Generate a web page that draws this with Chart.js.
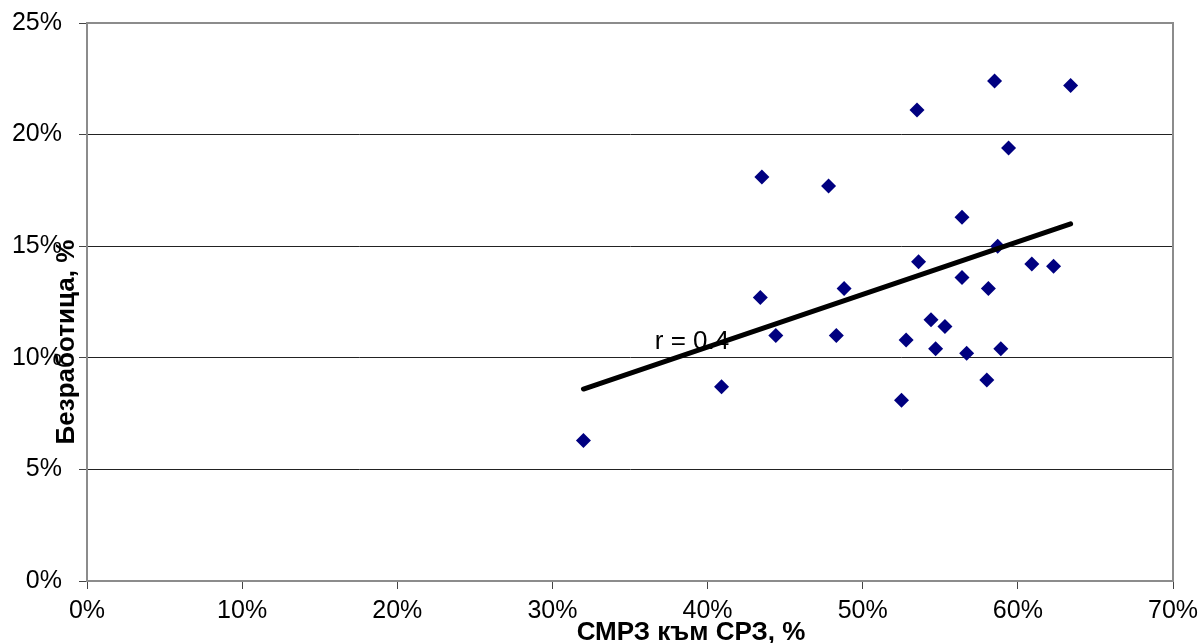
<!DOCTYPE html>
<html>
<head>
<meta charset="utf-8">
<script src="https://cdn.jsdelivr.net/npm/chart.js@4/dist/chart.umd.min.js"></script>
<style>
    body { margin: 0; background: #fff; }
    canvas { display: block; }
</style>
</head>
<body>
<canvas id="chart" width="1203" height="643"></canvas>
<script>
// СМРЗ към СРЗ, % (x) and Безработица, % (y) per region
const share_x = [32.0, 40.9, 43.4, 43.5, 44.4, 47.8, 48.3, 48.8, 52.5, 52.8, 53.5, 53.6, 54.4, 54.7,
    55.3, 56.4, 56.4, 56.7, 58.0, 58.1, 58.5, 58.7, 58.9, 59.4, 60.9, 62.3, 63.4];
const unemployment_y = [6.3, 8.7, 12.7, 18.1, 11.0, 17.7, 11.0, 13.1, 8.1, 10.8, 21.1, 14.3, 11.7, 10.4,
    11.4, 16.3, 13.6, 10.2, 9.0, 13.1, 22.4, 15.0, 10.4, 19.4, 14.2, 14.1, 22.2];

// linear trend line end points
const trend_x = [32.0, 63.4];
const trend_y = [8.6, 16.0];

const x_ticks = [0, 10, 20, 30, 40, 50, 60, 70];
const y_ticks = [0, 5, 10, 15, 20, 25];

const x_title = 'СМРЗ към СРЗ, %';
const y_title = 'Безработица, %';
const r_label = 'r = 0.4';
const r_label_pos = [36.6, 10.7];

const FONT = '"Liberation Sans", Arial, sans-serif';

const scatterPoints = share_x.map((x, i) => ({ x: x, y: unemployment_y[i] }));
const trendPoints = trend_x.map((x, i) => ({ x: x, y: trend_y[i] }));

const frame = {
    id: 'frame',
    beforeDatasetsDraw(chart) {
        const a = chart.chartArea;
        const ctx = chart.ctx;
        ctx.save();
        ctx.strokeStyle = '#8c8c8c';
        ctx.lineWidth = 2;
        ctx.strokeRect(a.left, a.top, a.right - a.left, a.bottom - a.top);
        ctx.restore();
    },
    afterDraw(chart) {
        const ctx = chart.ctx;
        const xs = chart.scales.x;
        const ys = chart.scales.y;
        ctx.save();
        ctx.fillStyle = '#000';

        // r label
        ctx.font = '26px ' + FONT;
        ctx.textAlign = 'left';
        ctx.textBaseline = 'middle';
        ctx.fillText(r_label, xs.getPixelForValue(r_label_pos[0]), ys.getPixelForValue(r_label_pos[1]));

        // x title
        ctx.font = 'bold 26px ' + FONT;
        ctx.textAlign = 'center';
        ctx.textBaseline = 'alphabetic';
        ctx.fillText(x_title, 691, 640);

        // y title
        ctx.translate(74, 342);
        ctx.rotate(-Math.PI / 2);
        ctx.fillText(y_title, 0, 0);
        ctx.restore();
    }
};

const chart = new Chart(document.getElementById('chart'), {
    type: 'scatter',
    data: {
        datasets: [
            {
                type: 'line',
                data: trendPoints,
                showLine: true,
                borderColor: '#000',
                borderWidth: 5,
                borderCapStyle: 'round',
                pointRadius: 0,
                fill: false
            },
            {
                data: scatterPoints,
                pointStyle: 'rectRot',
                pointRadius: 7.5,
                backgroundColor: '#000080',
                borderColor: '#000080',
                borderWidth: 0
            }
        ]
    },
    options: {
        responsive: false,
        animation: false,
        devicePixelRatio: 1,
        events: [],
        layout: {
            autoPadding: false,
            padding: { left: 0, top: 23, right: 30, bottom: 0 }
        },
        scales: {
            x: {
                type: 'linear',
                min: 0,
                max: 70,
                afterFit: scale => {
                    scale.height = 62;
                    scale.paddingLeft = 0;
                    scale.paddingRight = 0;
                },
                afterBuildTicks: scale => { scale.ticks = x_ticks.map(v => ({ value: v })); },
                border: { display: true, color: '#444', width: 2 },
                grid: {
                    drawOnChartArea: false,
                    drawTicks: true,
                    tickLength: 8,
                    tickColor: '#444'
                },
                ticks: {
                    color: '#000',
                    padding: 7,
                    maxRotation: 0,
                    font: { family: FONT, size: 25 },
                    callback: v => v + '%'
                }
            },
            y: {
                type: 'linear',
                min: 0,
                max: 25,
                afterFit: scale => {
                    scale.width = 87;
                    scale.paddingTop = 0;
                    scale.paddingBottom = 0;
                },
                afterBuildTicks: scale => { scale.ticks = y_ticks.map(v => ({ value: v })); },
                border: { display: true, color: '#444', width: 2 },
                grid: {
                    color: '#222',
                    lineWidth: 1,
                    drawTicks: true,
                    tickLength: 8,
                    tickColor: '#444'
                },
                ticks: {
                    color: '#000',
                    padding: 17,
                    font: { family: FONT, size: 25 },
                    callback: v => v + '%'
                }
            }
        },
        plugins: {
            legend: { display: false },
            tooltip: { enabled: false }
        }
    },
    plugins: [frame]
});
</script>
</body>
</html>
